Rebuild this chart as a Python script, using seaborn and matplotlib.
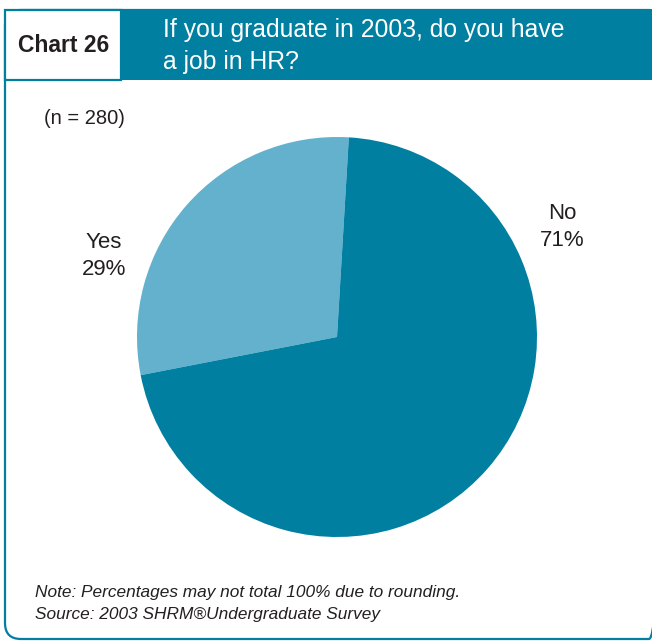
import matplotlib
matplotlib.use("Agg")
import matplotlib.pyplot as plt
from matplotlib.patches import Rectangle, FancyBboxPatch
import seaborn as sns

# Survey answers
categories = ["Yes", "No"]
shares = [29, 71]
sample_label = "(n = 280)"
chart_tag = "Chart 26"
title_lines = ["If you graduate in 2003, do you have", "a job in HR?"]
notes = ["Note: Percentages may not total 100% due to rounding.",
         "Source: 2003 SHRM\u00aeUndergraduate Survey"]

sns.set_theme(style="white")
plt.rcParams["font.family"] = ["Liberation Sans", "DejaVu Sans"]

TEAL = "#017fa1"
LIGHT = "#63b1cd"
INK = "#231f20"

W, H = 652, 642
fig = plt.figure(figsize=(W / 100, H / 100), dpi=100)
fig.patch.set_facecolor("white")

# Frame layer in pixel coordinates
frame = fig.add_axes([0, 0, 1, 1])
frame.set_xlim(0, W)
frame.set_ylim(H, 0)
frame.axis("off")

frame.add_patch(FancyBboxPatch((5, 10), 660, 629,
                               boxstyle="round,pad=0,rounding_size=16",
                               facecolor="none", edgecolor=TEAL, linewidth=1.6))
frame.add_patch(Rectangle((120, 9), W - 120, 71, facecolor=TEAL, edgecolor="none"))
frame.add_patch(Rectangle((5, 10), 116, 70, facecolor="white", edgecolor=TEAL, linewidth=1.6))

frame.text(18, 46, chart_tag, fontsize=16.5, fontweight="bold", color=INK,
           ha="left", va="center")
frame.text(163, 30, title_lines[0], fontsize=17.8, color="white", ha="left", va="center")
frame.text(163, 62, title_lines[1], fontsize=17.8, color="white", ha="left", va="center")

frame.text(44, 118, sample_label, fontsize=14.5, color=INK, ha="left", va="center")

frame.text(35, 593, notes[0], fontsize=12.4, style="italic", color=INK, ha="left", va="center")
frame.text(35, 615, notes[1], fontsize=12.4, style="italic", color=INK, ha="left", va="center")

# Pie chart
cx, cy, r = 337, 337, 200
pie_ax = fig.add_axes([(cx - r) / W, (H - cy - r) / H, 2 * r / W, 2 * r / H])
pie_ax.pie(shares, colors=[LIGHT, TEAL], startangle=86.6, counterclock=True,
           wedgeprops=dict(linewidth=0))
pie_ax.set_xlim(-1, 1)
pie_ax.set_ylim(-1, 1)
pie_ax.axis("off")

label_pos = {"Yes": (104, 256), "No": (562, 227)}
for cat, val in zip(categories, shares):
    x, y = label_pos[cat]
    frame.text(x, y, f"{cat}\n{val}%", fontsize=16, color=INK, ha="center",
               va="center", linespacing=1.4)

fig.savefig("out.png", dpi=100, facecolor="white")
